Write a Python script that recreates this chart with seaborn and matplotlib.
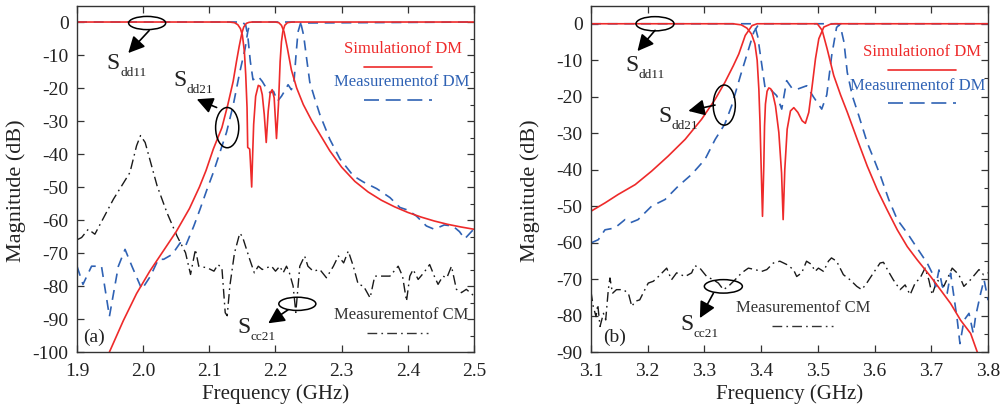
import matplotlib
matplotlib.use("Agg")
import matplotlib.pyplot as plt
import numpy as np
import pandas as pd
import seaborn as sns
from matplotlib.patches import Ellipse

# ---------------- (a) lower band, 1.9-2.5 GHz ----------------
a_sim21_f = [1.949, 1.97, 1.99, 2.01, 2.03, 2.05, 2.07, 2.085, 2.095, 2.106, 2.119, 2.128,
             2.136, 2.141, 2.145, 2.149, 2.152, 2.156, 2.160, 2.165, 2.200, 2.205, 2.209,
             2.213, 2.218, 2.224, 2.232, 2.242, 2.255, 2.267, 2.282, 2.30, 2.32, 2.34, 2.36,
             2.38, 2.40, 2.42, 2.44, 2.46, 2.48, 2.5]
a_sim21_db = [-100, -90.5, -82.3, -75.5, -69.5, -63.5, -56.5, -50, -45, -38.5, -32, -25,
              -18, -12, -7.5, -3.5, -1.5, -0.4, -0.1, 0, 0, -0.2, -1,
              -3, -8, -14.5, -20, -25, -30, -34, -39, -44, -48.3, -51.5, -54,
              -56, -57.7, -59.1, -60.3, -61.3, -62.1, -62.8]

a_sim11_f = [1.9, 2.13, 2.138, 2.143, 2.147, 2.150, 2.153, 2.155, 2.157, 2.158, 2.161, 2.162,
             2.164, 2.1655, 2.167, 2.170, 2.174, 2.177, 2.180, 2.183, 2.186, 2.189, 2.192,
             2.195, 2.198, 2.2015, 2.2045, 2.207, 2.209, 2.211, 2.214, 2.218, 2.225, 2.5]
a_sim11_db = [0, 0, -0.2, -0.8, -2, -4, -9, -16, -26, -38, -38.5, -42,
              -50, -40, -31, -22.5, -19.2, -19.5, -22, -28, -36.5, -27, -21.5,
              -20.5, -23, -35.3, -25, -12, -6, -3, -1, -0.2, 0, 0]

a_mea21_f = [1.9, 1.909, 1.922, 1.937, 1.949, 1.9625, 1.9726, 1.983, 1.998, 2.011, 2.023,
             2.031, 2.044, 2.056, 2.064, 2.0766, 2.086, 2.096, 2.106, 2.116, 2.126, 2.136,
             2.146, 2.154, 2.158, 2.161, 2.165, 2.235, 2.239, 2.2425, 2.247, 2.2518, 2.259,
             2.267, 2.282, 2.2975, 2.3176, 2.333, 2.353, 2.373, 2.388, 2.40, 2.413, 2.428,
             2.44, 2.455, 2.468, 2.478, 2.486, 2.4995]
a_mea21_db = [-74, -79.5, -74, -74, -89.2, -74, -68.9, -74, -81, -77, -71.9,
              -71.9, -70.4, -66.9, -67.9, -61.8, -56.7, -51, -45.6, -39.5, -33.4, -25.3,
              -15.2, -8.1, -3, -0.5, 0, 0, -1, -4, -11, -18.2, -23,
              -28, -35.5, -41.5, -46.6, -48.5, -50.5, -53.2, -56.2, -57, -58.8, -61.8,
              -62.8, -61.5, -61.8, -63.5, -65.7, -62.8]

a_mea11_f = [1.9, 2.150, 2.155, 2.158, 2.162, 2.166, 2.170, 2.174, 2.180, 2.186, 2.192,
             2.197, 2.203, 2.209, 2.215, 2.219, 2.224, 2.228, 2.231, 2.234, 2.238, 2.5]
a_mea11_db = [0, 0, -1, -4, -12, -17.5, -17, -16.5, -18, -20, -21.5,
              -21, -24, -22.5, -20.5, -19, -20.5, -18, -10, -3, -0.3, 0]

a_cm_f = [1.9, 1.907, 1.917, 1.927, 1.955, 1.98, 1.99, 1.996, 2.003, 2.021, 2.036, 2.051,
          2.064, 2.0716, 2.079, 2.084, 2.097, 2.107, 2.113, 2.119, 2.124, 2.127, 2.131,
          2.138, 2.146, 2.150, 2.161, 2.168, 2.174, 2.180, 2.186, 2.194, 2.200, 2.2065,
          2.2116, 2.2166, 2.221, 2.2266, 2.2307, 2.2367, 2.244, 2.249, 2.257, 2.267, 2.277,
          2.2875, 2.295, 2.303, 2.31, 2.3176, 2.325, 2.333, 2.343, 2.35, 2.36, 2.373, 2.3854,
          2.392, 2.398, 2.403, 2.408, 2.4156, 2.424, 2.433, 2.44, 2.4457, 2.453, 2.459,
          2.466, 2.4734, 2.481, 2.4884, 2.5]
a_cm_db = [-66, -65.3, -62.8, -64.3, -53.7, -45.6, -37.5, -34.4, -36.5, -49.6, -57.8, -64.8,
           -69.9, -76.5, -68.9, -74, -74.5, -75.5, -73.5, -74.5, -88.1, -89, -80,
           -70, -64, -65, -71.9, -76, -74, -75, -74.5, -74, -75.5, -74,
           -76, -74, -76, -80, -88, -74, -70.9, -74, -75.5, -75, -77.5,
           -74, -70.9, -73, -69.4, -74, -79.5, -80, -83.6, -77, -77, -77, -74,
           -77, -84.6, -77, -75, -78, -76, -73.5, -77, -79.5, -77, -77.5,
           -74, -81, -82, -81, -83]

# ---------------- (b) upper band, 3.1-3.8 GHz ----------------
b_sim21_f = [3.1, 3.125, 3.148, 3.178, 3.207, 3.236, 3.266, 3.295, 3.319, 3.336, 3.351,
             3.3606, 3.372, 3.384, 3.393, 3.499, 3.5076, 3.5164, 3.528, 3.54, 3.552, 3.5694,
             3.587, 3.6047, 3.622, 3.64, 3.6576, 3.675, 3.6988, 3.7164, 3.734, 3.7517,
             3.7693, 3.781]
b_sim21_db = [-51.4, -49.1, -46.8, -44.1, -40.4, -36.3, -31.7, -26.2, -20.7, -16.1, -11.5,
              -8.3, -3.2, -0.5, 0, 0, -1.8, -6.9, -14.2, -19.5, -24.3, -31.7,
              -39, -45.5, -51, -56.5, -61.1, -64.7, -69.3, -73, -76.7, -81.3,
              -84.9, -90]

b_sim11_f = [3.1, 3.35, 3.365, 3.375, 3.383, 3.389, 3.393, 3.396, 3.398, 3.400, 3.4024,
             3.4047, 3.406, 3.4076, 3.4105, 3.4135, 3.4165, 3.4194, 3.4253, 3.4312, 3.436,
             3.4388, 3.4417, 3.4459, 3.4517, 3.4576, 3.4647, 3.4723, 3.478, 3.484, 3.49,
             3.4958, 3.5017, 3.5105, 3.5223, 3.53, 3.8]
b_sim11_db = [0, 0, -0.3, -1.2, -2.8, -5.5, -10, -18, -27, -39, -52.8,
              -39, -28, -22, -18.5, -17.6, -17.8, -18.4, -22.5, -29.8, -40.9,
              -53.7, -40, -28.9, -23.9, -23, -24.3, -26.6, -27.3, -24.3, -17,
              -9.6, -4.1, -0.9, -0.1, 0, 0]

b_mea21_f = [3.1, 3.113, 3.1247, 3.142, 3.16, 3.1688, 3.183, 3.207, 3.2305, 3.254, 3.2775,
             3.301, 3.319, 3.336, 3.348, 3.3636, 3.378, 3.387, 3.395, 3.40, 3.535, 3.54,
             3.546, 3.5518, 3.5606, 3.5724, 3.587, 3.599, 3.6106, 3.625, 3.64, 3.6576, 3.675,
             3.693, 3.7017, 3.7076, 3.7135, 3.7194, 3.728, 3.734, 3.7458, 3.7505, 3.7576,
             3.7664, 3.774, 3.778, 3.787, 3.793, 3.8]
b_mea21_db = [-60.1, -59.2, -56.5, -56, -53.7, -54.6, -53.7, -50, -48.2, -44.5, -41.3,
              -37.2, -31.7, -27.5, -22.5, -14.2, -6.9, -2.3, -0.3, 0, 0, -0.9,
              -5, -13.3, -19.7, -25.3, -32.6, -37.2, -41.8, -48.2, -53.7, -57.4, -61.5,
              -65.7, -68.4, -72.1, -67.5, -72, -73.9, -68.4, -81.3, -87.7, -81.3,
              -79.4, -84.9, -80.3, -73.9, -70.2, -75.8]

b_mea11_f = [3.1, 3.383, 3.389, 3.394, 3.4, 3.4068, 3.416, 3.4274, 3.4363, 3.445, 3.454,
             3.4627, 3.4803, 3.492, 3.5068, 3.5157, 3.5244, 3.533, 3.54, 3.8]
b_mea11_db = [0, 0, -0.6, -3.5, -10, -17.4, -18, -19.7, -23.4, -15.6, -17.6,
              -18, -17, -20, -23.4, -19.5, -8.7, -1, 0, 0]

b_cm_f = [3.1, 3.104, 3.109, 3.112, 3.116, 3.122, 3.126, 3.1306, 3.1335, 3.138, 3.145,
          3.157, 3.166, 3.172, 3.178, 3.186, 3.195, 3.201, 3.21, 3.219, 3.2335, 3.242,
          3.251, 3.266, 3.2775, 3.283, 3.292, 3.304, 3.3157, 3.3246, 3.3334, 3.3422, 3.354,
          3.3657, 3.3775, 3.389, 3.401, 3.41, 3.4216, 3.433, 3.445, 3.457, 3.4627, 3.4715,
          3.48, 3.489, 3.495, 3.501, 3.51, 3.5186, 3.524, 3.533, 3.545, 3.5568, 3.5686,
          3.5774, 3.5862, 3.598, 3.6097, 3.6156, 3.6244, 3.633, 3.645, 3.6538, 3.6626,
          3.6715, 3.6803, 3.689, 3.6956, 3.7015, 3.7103, 3.722, 3.7368, 3.7485, 3.7574,
          3.769, 3.784, 3.792, 3.8]
b_cm_db = [-73.4, -77.5, -80.3, -77, -83, -79.4, -81.2, -72.9, -69.7, -73.9, -72.9,
           -72.9, -73.9, -77.5, -76.1, -75.7, -72.9, -71.1, -70.6, -69.3, -67, -70.2,
           -68.3, -69.3, -68.3, -66.3, -67, -69.3, -70.2, -71.1, -72.9, -72, -70.2,
           -68.3, -67, -67.4, -67.9, -67.4, -65.6, -65.1, -66, -67.4, -69.3, -68.3,
           -65.1, -66, -67.9, -67, -67.9, -65.1, -64.2, -65.1, -68.8, -70.2, -72,
           -72.9, -71.1, -68.3, -65.6, -65.4, -67.9, -70.2, -72.9, -71.6, -74.3,
           -71.1, -69.7, -67, -70.2, -74.3, -70.2, -72, -67, -68.8, -72,
           -70.2, -67.4, -68.8, -68.3]

RED = "#ee2a2a"
BLUE = "#2f62b4"
DARK = "#1a1a1a"
AXIS = "#333333"

STYLES = {
    "sim21": dict(color=RED, linestyle="-", linewidth=1.2),
    "sim11": dict(color=RED, linestyle="-", linewidth=1.2),
    "mea21": dict(color=BLUE, linestyle=(0, (6, 4)), linewidth=1.2),
    "mea11": dict(color=BLUE, linestyle=(0, (6, 4)), linewidth=1.2),
    "cm": dict(color=DARK, linestyle=(0, (7, 3, 1.2, 3)), linewidth=1.0),
}


def frame(series):
    rows = []
    for name, (f, db) in series.items():
        rows.append(pd.DataFrame({"freq": f, "mag": db, "trace": name}))
    return pd.concat(rows, ignore_index=True)


panel_a = frame({"cm": (a_cm_f, a_cm_db), "mea21": (a_mea21_f, a_mea21_db),
                 "mea11": (a_mea11_f, a_mea11_db), "sim21": (a_sim21_f, a_sim21_db),
                 "sim11": (a_sim11_f, a_sim11_db)})
panel_b = frame({"cm": (b_cm_f, b_cm_db), "mea21": (b_mea21_f, b_mea21_db),
                 "mea11": (b_mea11_f, b_mea11_db), "sim21": (b_sim21_f, b_sim21_db),
                 "sim11": (b_sim11_f, b_sim11_db)})

sns.set_theme(style="ticks")
plt.rcParams["font.family"] = ["Liberation Serif", "DejaVu Serif"]
plt.rcParams["axes.unicode_minus"] = False

fig = plt.figure(figsize=(10.04, 4.12), dpi=100)
ax_a = fig.add_axes([0.0767, 0.1456, 0.3954, 0.8410])
ax_b = fig.add_axes([0.5886, 0.1456, 0.3955, 0.8410])


def draw_traces(ax, df):
    for name in ["cm", "mea21", "mea11", "sim21", "sim11"]:
        sub = df[df["trace"] == name]
        sns.lineplot(data=sub, x="freq", y="mag", ax=ax, estimator=None, sort=False,
                     legend=False, **STYLES[name])


def style_axes(ax, xlim, ylim, xticks, yticks):
    ax.set_xlim(*xlim)
    ax.set_ylim(*ylim)
    ax.set_xticks(xticks)
    ax.set_xticklabels([f"{v:.1f}" for v in xticks])
    ax.set_yticks(yticks)
    ax.set_yticklabels([f"{v:d}" for v in yticks])
    ax.set_yticks(np.arange(yticks[0] + 5, yticks[-1], 10), minor=True)
    ax.tick_params(which="major", direction="in", top=True, right=True, length=5,
                   width=0.9, labelsize=14, color=AXIS, labelcolor="#222222")
    ax.tick_params(axis="x", which="major", pad=8)
    ax.tick_params(axis="y", which="major", pad=6)
    ax.tick_params(which="minor", direction="in", left=False, right=True, length=3,
                   width=0.8, color=AXIS)
    for sp in ax.spines.values():
        sp.set_color(AXIS)
        sp.set_linewidth(1.0)
    ax.set_xlabel("Frequency (GHz)", fontsize=15, labelpad=3, color="#222222")
    ax.set_ylabel("Magnitude (dB)", fontsize=16, color="#222222")
    ax.yaxis.set_label_coords(-0.128, 0.467)


def ring(ax, center, w, h, start, end):
    ax.add_patch(Ellipse(center, w, h, fill=False, ec="black", lw=1.1, zorder=5))
    ax.annotate("", xy=end, xytext=start,
                arrowprops=dict(arrowstyle="-|>,head_length=0.7,head_width=0.35",
                                color="black", lw=1.2, mutation_scale=14,
                                shrinkA=0, shrinkB=0), zorder=6)


def sparam(ax, x, y, sub):
    ax.text(x, y, "S", fontsize=17, ha="left", va="baseline", color="#222222")
    ax.annotate(sub, xy=(x, y), xytext=(9.6, -5), textcoords="offset points",
                fontsize=9.5, ha="left", va="baseline", color="#222222")


def key(ax, label, color, center, line_y, line_x, ls, lw=1.2):
    ax.text(center[0], center[1], label, color=color, fontsize=12,
            ha="center", va="center")
    ax.plot(line_x, [line_y, line_y], color=color, linestyle=ls, lw=lw)


draw_traces(ax_a, panel_a)
draw_traces(ax_b, panel_b)

style_axes(ax_a, (1.9, 2.5), (-100, 5), [1.9, 2.0, 2.1, 2.2, 2.3, 2.4, 2.5],
           list(range(-100, 1, 10)))
style_axes(ax_b, (3.1, 3.8), (-90, 5), [3.1, 3.2, 3.3, 3.4, 3.5, 3.6, 3.7, 3.8],
           list(range(-90, 1, 10)))

# panel (a) markers and keys
ring(ax_a, (2.006, -0.3), 0.056, 4.0, (2.009, -2.6), (1.9775, -9.4))
sparam(ax_a, 1.945, -14.3, "dd11")
ring(ax_a, (2.127, -32), 0.035, 12.2, (2.111, -25.9), (2.081, -23.4))
sparam(ax_a, 2.045, -19.5, "dd21")
ring(ax_a, (2.233, -85.4), 0.056, 4.0, (2.219, -87.2), (2.189, -91.3))
sparam(ax_a, 2.142, -94.2, "cc21")
ax_a.text(1.909, -95.7, "(a)", fontsize=14, ha="left", va="center", color="#222222")
key(ax_a, "Simulationof DM", RED, (2.3927, -8.2), -13.6, [2.334, 2.437], "-")
key(ax_a, "Measurementof DM", BLUE, (2.39, -18.1), -23.6, [2.334, 2.437], (0, (9, 4)))
key(ax_a, "Measurementof CM", AXIS, (2.39, -88.8), -94.2, [2.339, 2.43],
    (0, (7, 3, 1.2, 3)), lw=1.0)

# panel (b) markers and keys
ring(ax_b, (3.2129, 0), 0.067, 3.9, (3.213, -1.8), (3.182, -7.5))
sparam(ax_b, 3.16, -12.9, "dd11")
ring(ax_b, (3.335, -22.3), 0.039, 11.0, (3.3187, -22.3), (3.2717, -23.9))
sparam(ax_b, 3.218, -27.0, "dd21")
ring(ax_b, (3.3334, -72), 0.067, 3.7, (3.3158, -73.9), (3.292, -80.7))
sparam(ax_b, 3.257, -84.0, "cc21")
ax_b.text(3.121, -86.0, "(b)", fontsize=14, ha="left", va="center", color="#222222")
key(ax_b, "Simulationof DM", RED, (3.683, -7.8), -12.6, [3.624, 3.744], "-")
key(ax_b, "Measurementof DM", BLUE, (3.6766, -17.2), -21.7, [3.624, 3.744], (0, (9, 4)))
key(ax_b, "Measurementof CM", AXIS, (3.4733, -78.0), -82.9, [3.4186, 3.5273],
    (0, (7, 3, 1.2, 3)), lw=1.0)

fig.savefig("out.png", dpi=100)
